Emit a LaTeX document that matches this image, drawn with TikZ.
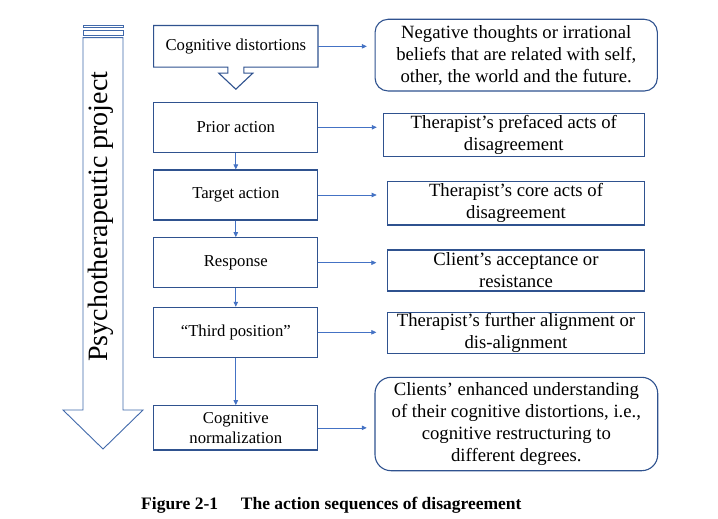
\documentclass[tikz,border=0pt]{standalone}
\usepackage{fontspec}
\setmainfont{Liberation Serif}
\usetikzlibrary{arrows.meta,calc}
\definecolor{boxblue}{RGB}{47,82,143}
\definecolor{arrblue}{RGB}{68,114,196}
\definecolor{bigblue}{RGB}{65,105,170}
\tikzset{
  boxline/.style={draw=boxblue, line width=1.1pt, line join=miter},
  mainbox/.style={boxline, fill=white, minimum width=164pt, align=center, inner sep=0pt,
    font=\fontsize{16.7}{20}\selectfont},
  rbox/.style={boxline, fill=white, align=center, inner sep=0pt,
    font=\fontsize{18.7}{22}\selectfont},
  arr/.style={draw=arrblue, line width=0.7pt, -{Triangle[length=5pt,width=4.5pt]}},
  bigarrow/.style={draw=bigblue, line width=0.9pt, fill=white, line join=miter},
}
\begin{document}
\begin{tikzpicture}[x=1pt,y=-1pt]
\useasboundingbox[fill=white] (0,0) rectangle (718,519);

% big left striped arrow
\draw[bigarrow] (83,25.7) rectangle (123,27.3);
\draw[bigarrow] (83,30.7) rectangle (123,35);
\draw[bigarrow] (83,37.7) -- (123,37.7) -- (123,410) -- (143,410) -- (103,449)
  -- (63,410) -- (83,410) -- cycle;
\node[rotate=90, inner sep=0pt, font=\fontsize{28}{32}\selectfont] (proj) at (101,216.7)
  {Psychotherapeutic project};

% main column
\node[minimum width=164pt, minimum height=41.3pt, inner sep=0pt,
  font=\fontsize{16.7}{20}\selectfont] (cd) at (235.8,46.35) {Cognitive distortions};
\draw[boxline] (cd.north west) -- (cd.north east) -- (cd.south east)
  -- ($(cd.south)+(8,0)$) -- ($(cd.south)+(8,6)$) -- ($(cd.south)+(17,6)$)
  -- ($(cd.south)+(0,22)$) -- ($(cd.south)+(-17,6)$) -- ($(cd.south)+(-8,6)$)
  -- ($(cd.south)+(-8,0)$) -- (cd.south west) -- cycle;

\node[mainbox, minimum height=50pt] (prior)  at (235.8,127.3) {Prior action};
\node[mainbox, minimum height=50pt] (target) at (235.8,195)   {Target action};
\node[mainbox, minimum height=50pt] (resp)   at (235.8,262.7) {Response};
\node[mainbox, minimum height=50pt] (third)  at (235.8,332.3) {``Third position''};
\node[mainbox, minimum height=44.3pt] (norm) at (235.8,427.85) {Cognitive\\normalization};

% right column
\node[rbox, rounded corners=13pt, minimum width=282.3pt, minimum height=71.7pt] (neg)
  at (516.2,55.15) {Negative thoughts or irrational\\beliefs that are related with self,\\other, the world and the future.};
\node[rbox, minimum width=261pt, minimum height=43.4pt] (pref) at (513.8,135)
  {Therapist’s prefaced acts of\\disagreement};
\node[rbox, minimum width=256.6pt, minimum height=43.3pt] (core) at (516,203.35)
  {Therapist’s core acts of\\disagreement};
\node[rbox, minimum width=256.6pt, minimum height=41pt] (accept) at (516,270.5)
  {Client’s acceptance or\\resistance};
\node[rbox, minimum width=256.6pt, minimum height=40.6pt] (further) at (516,333)
  {Therapist’s further alignment or\\dis-alignment};
\node[rbox, rounded corners=16pt, minimum width=282.7pt, minimum height=93.4pt] (enh)
  at (516.35,424) {Clients’ enhanced understanding\\of their cognitive distortions, i.e.,\\cognitive restructuring to\\different degrees.};

% vertical arrows
\draw[arr] (prior) -- (target);
\draw[arr] (target) -- (resp);
\draw[arr] (resp) -- (third);
\draw[arr] (third) -- (norm);

% horizontal arrows
\draw[arr, shorten >=7.7pt] (cd.east) -- (cd.east -| neg.west);
\draw[arr, shorten >=6pt] (prior.east) -- (prior.east -| pref.west);
\draw[arr, shorten >=10.5pt] (target.east) -- (target.east -| core.west);
\draw[arr, shorten >=10.8pt] (resp.east) -- (resp.east -| accept.west);
\draw[arr, shorten >=10.8pt] (third.east) -- (third.east -| further.west);
\draw[arr, shorten >=7.7pt] (norm.east) -- (norm.east -| enh.west);

% caption
\node[anchor=base west, inner sep=0pt, font=\bfseries\fontsize{17.5}{20}\selectfont] (cap)
  at (141,509) {Figure 2-1\hspace{1.3em}The action sequences of disagreement};
\end{tikzpicture}
\end{document}
